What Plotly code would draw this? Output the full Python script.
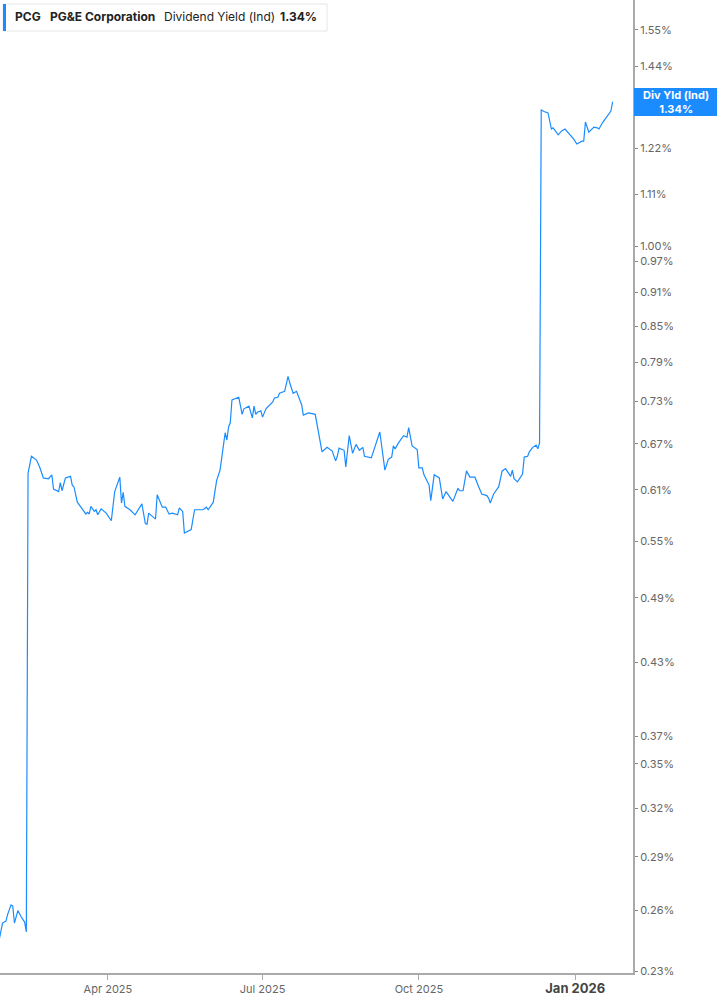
import plotly.graph_objects as go

# Dividend yield (Ind), %
dates = [
    "2025-01-27", "2025-01-28", "2025-01-29", "2025-01-31", "2025-02-01", "2025-02-03",
    "2025-02-04", "2025-02-05", "2025-02-07", "2025-02-09", "2025-02-11", "2025-02-12",
    "2025-02-13", "2025-02-15", "2025-02-18", "2025-02-20", "2025-02-22", "2025-02-25",
    "2025-02-26", "2025-02-27", "2025-02-28", "2025-03-03", "2025-03-04", "2025-03-05",
    "2025-03-07", "2025-03-10", "2025-03-11", "2025-03-12", "2025-03-14", "2025-03-19",
    "2025-03-20", "2025-03-21", "2025-03-22", "2025-03-24", "2025-03-25", "2025-03-26",
    "2025-03-28", "2025-03-31", "2025-04-03", "2025-04-05", "2025-04-08", "2025-04-09",
    "2025-04-10", "2025-04-11", "2025-04-14", "2025-04-17", "2025-04-21", "2025-04-23",
    "2025-04-24", "2025-04-25", "2025-04-29", "2025-04-30", "2025-05-03", "2025-05-05",
    "2025-05-07", "2025-05-09", "2025-05-12", "2025-05-13", "2025-05-15", "2025-05-16",
    "2025-05-20", "2025-05-22", "2025-05-27", "2025-05-29", "2025-05-30", "2025-06-02",
    "2025-06-04", "2025-06-06", "2025-06-09", "2025-06-10", "2025-06-11", "2025-06-12",
    "2025-06-13", "2025-06-17", "2025-06-19", "2025-06-20", "2025-06-23", "2025-06-25",
    "2025-06-26", "2025-06-27", "2025-06-28", "2025-06-30", "2025-07-01", "2025-07-03",
    "2025-07-07", "2025-07-08", "2025-07-10", "2025-07-11", "2025-07-14", "2025-07-16",
    "2025-07-17", "2025-07-19", "2025-07-21", "2025-07-23", "2025-07-24", "2025-07-25",
    "2025-07-28", "2025-08-01", "2025-08-03", "2025-08-05", "2025-08-08", "2025-08-11",
    "2025-08-13", "2025-08-14", "2025-08-15", "2025-08-18", "2025-08-19", "2025-08-21",
    "2025-08-23", "2025-08-25", "2025-08-27", "2025-08-29", "2025-08-30", "2025-09-03",
    "2025-09-08", "2025-09-11", "2025-09-13", "2025-09-15", "2025-09-16", "2025-09-17",
    "2025-09-19", "2025-09-22", "2025-09-24", "2025-09-25", "2025-09-27", "2025-09-30",
    "2025-10-01", "2025-10-03", "2025-10-04", "2025-10-06", "2025-10-07", "2025-10-08",
    "2025-10-10", "2025-10-13", "2025-10-15", "2025-10-17", "2025-10-21", "2025-10-24",
    "2025-10-25", "2025-10-27", "2025-10-29", "2025-10-31", "2025-11-03", "2025-11-05",
    "2025-11-07", "2025-11-10", "2025-11-11", "2025-11-12", "2025-11-14", "2025-11-17",
    "2025-11-19", "2025-11-21", "2025-11-24", "2025-11-25", "2025-11-26", "2025-11-28",
    "2025-12-01", "2025-12-02", "2025-12-04", "2025-12-05", "2025-12-07", "2025-12-09",
    "2025-12-10", "2025-12-11", "2025-12-12", "2025-12-14", "2025-12-16", "2025-12-18",
    "2025-12-19", "2025-12-22", "2025-12-24", "2025-12-26", "2025-12-28", "2025-12-30",
    "2025-12-31", "2026-01-02", "2026-01-05", "2026-01-06", "2026-01-07", "2026-01-09",
    "2026-01-12", "2026-01-14", "2026-01-15", "2026-01-17", "2026-01-20", "2026-01-22",
    "2026-01-23",
]
yield_pct = [
    0.245, 0.250, 0.2535, 0.2545, 0.258, 0.263,
    0.2624, 0.2535, 0.260, 0.2566, 0.254, 0.249,
    0.631, 0.653, 0.648, 0.638, 0.625, 0.624,
    0.626, 0.629, 0.611, 0.608, 0.619, 0.609,
    0.625, 0.627, 0.616, 0.614, 0.595, 0.581,
    0.583, 0.581, 0.590, 0.584, 0.586, 0.580,
    0.587, 0.582, 0.573, 0.608, 0.626, 0.594,
    0.607, 0.590, 0.586, 0.580, 0.593, 0.570,
    0.569, 0.582, 0.575, 0.604, 0.589, 0.589,
    0.581, 0.582, 0.580, 0.588, 0.584, 0.559,
    0.563, 0.586, 0.586, 0.589, 0.586, 0.595,
    0.622, 0.635, 0.685, 0.675, 0.693, 0.699,
    0.732, 0.736, 0.711, 0.719, 0.723, 0.706,
    0.723, 0.711, 0.714, 0.716, 0.707, 0.719,
    0.729, 0.735, 0.736, 0.742, 0.745, 0.768,
    0.758, 0.742, 0.745, 0.731, 0.725, 0.710,
    0.713, 0.711, 0.686, 0.659, 0.665, 0.660,
    0.647, 0.653, 0.664, 0.661, 0.639, 0.681,
    0.657, 0.669, 0.661, 0.665, 0.653, 0.651,
    0.686, 0.635, 0.649, 0.652, 0.667, 0.663,
    0.671, 0.681, 0.679, 0.692, 0.667, 0.662,
    0.638, 0.638, 0.629, 0.621, 0.616, 0.597,
    0.629, 0.625, 0.599, 0.608, 0.596, 0.612,
    0.609, 0.609, 0.634, 0.626, 0.626, 0.615,
    0.605, 0.603, 0.600, 0.594, 0.605, 0.614,
    0.634, 0.637, 0.627, 0.635, 0.624, 0.620,
    0.630, 0.652, 0.653, 0.659, 0.665, 0.668,
    0.663, 0.671, 1.318, 1.313, 1.310, 1.268,
    1.271, 1.253, 1.263, 1.268, 1.258, 1.248,
    1.243, 1.230, 1.237, 1.237, 1.286, 1.260,
    1.273, 1.271, 1.268, 1.284, 1.302, 1.315,
    1.34,
]

y_tick_vals = [0.23, 0.26, 0.29, 0.32, 0.35, 0.37, 0.43, 0.49, 0.55, 0.61, 0.67,
               0.73, 0.79, 0.85, 0.91, 0.97, 1.00, 1.11, 1.22, 1.34, 1.44, 1.55]
y_tick_text = [f"{v:.2f}%" for v in y_tick_vals]

x_tick_vals = ["2025-04-01", "2025-07-01", "2025-10-01", "2026-01-01"]
x_tick_text = ["Apr 2025", "Jul 2025", "Oct 2025",
               "<span style='font-size:13px;color:#444'><b>Jan 2026</b></span>"]

ticker = "PCG"
company = "PG&E Corporation"
metric = "Dividend Yield (Ind)"
last_label = "1.34%"

BLUE = "#1a8cff"
PW, PH = 633, 973  # plot area size in px


def px(x):
    return x / PW


def py(y):
    return 1 - y / PH


fig = go.Figure()
fig.add_trace(go.Scatter(
    x=dates, y=yield_pct, mode="lines",
    line=dict(color=BLUE, width=1.2),
    hoverinfo="skip", showlegend=False,
))

fig.update_layout(
    width=717, height=1005,
    margin=dict(l=0, r=84, t=0, b=32),
    paper_bgcolor="white", plot_bgcolor="white",
    font=dict(family="Inter, Roboto, sans-serif", size=11, color="#555"),
    xaxis=dict(
        type="date",
        range=["2025-01-27 12:00", "2026-02-04 00:00"],
        tickvals=x_tick_vals, ticktext=x_tick_text,
        showgrid=False, zeroline=False,
        showline=True, linecolor="#aaaaaa", linewidth=2,
        ticks="outside", ticklen=5, tickcolor="#aaaaaa", tickwidth=1,
        tickfont=dict(size=11, color="#666"),
    ),
    yaxis=dict(
        type="log", side="right",
        range=[-0.640, 0.2167],
        tickvals=y_tick_vals, ticktext=y_tick_text,
        showgrid=False, zeroline=False,
        showline=True, linecolor="#aaaaaa", linewidth=2,
        ticks="outside", ticklen=3, tickcolor="#888", tickwidth=1,
        tickfont=dict(size=11, color="#666"),
    ),
)

shapes = [
    # header box
    dict(type="rect", xref="paper", yref="paper",
         x0=px(3), x1=px(327), y0=py(31), y1=py(4),
         line=dict(color="#e6e6e6", width=1), fillcolor="white", layer="above"),
    dict(type="rect", xref="paper", yref="paper",
         x0=px(3), x1=px(6), y0=py(31), y1=py(4),
         line=dict(width=0), fillcolor=BLUE, layer="above"),
    # last-value label box
    dict(type="rect", xref="paper", yref="paper",
         x0=px(634), x1=px(717), y0=py(116), y1=py(88),
         line=dict(width=0), fillcolor=BLUE, layer="above"),
]
fig.update_layout(shapes=shapes)

ann_font = dict(family="Inter, Roboto, sans-serif", size=12, color="#222")
anns = [
    dict(text=f"<b>{ticker}</b>", x=px(13)),
    dict(text=f"<b>{company}</b>", x=px(48)),
    dict(text=metric, x=px(162)),
    dict(text=f"<b>{last_label}</b>", x=px(278)),
]
for a in anns:
    fig.add_annotation(xref="paper", yref="paper", y=py(17), xanchor="left",
                       yanchor="middle", showarrow=False, font=ann_font, **a)

fig.add_annotation(
    xref="paper", yref="paper", x=px(675.5), y=py(102),
    xanchor="center", yanchor="middle", showarrow=False,
    text=f"<b>Div Yld (Ind)</b><br><b>{last_label}</b>",
    font=dict(family="Inter, Roboto, sans-serif", size=11, color="white"),
)

fig.write_html(
    "out.html",
    config={"displayModeBar": False},
    post_script="document.body.style.margin='0';document.body.style.overflow='hidden';",
)
